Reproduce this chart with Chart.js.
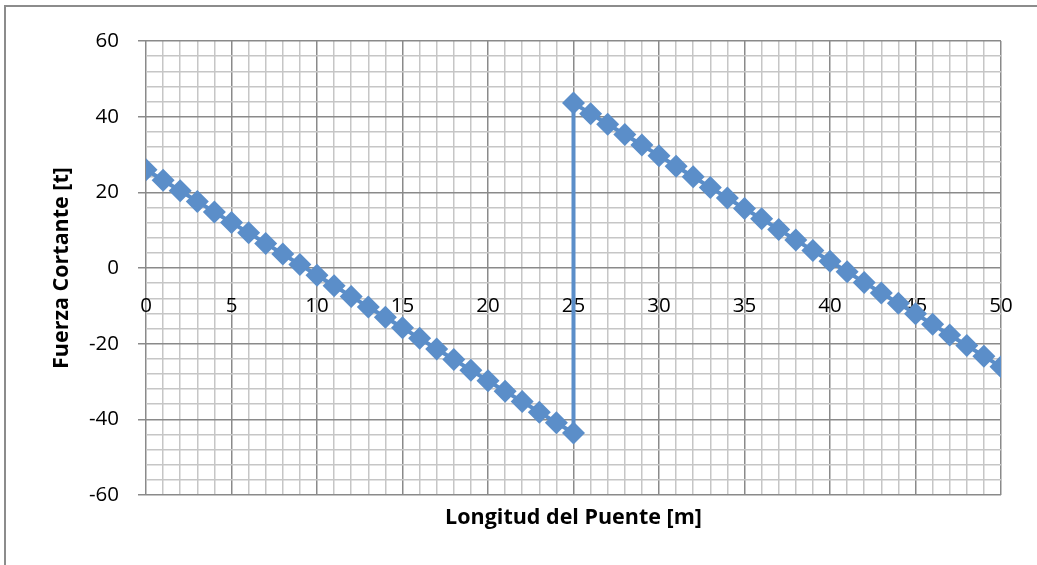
<!DOCTYPE html>
<html><head><meta charset="utf-8">
<script src="https://cdn.jsdelivr.net/npm/chart.js@4"></script>
<style>html,body{margin:0;padding:0;background:#fff;} #c{display:block;}</style>
</head><body>
<canvas id="c" width="1037" height="565"></canvas>
<script>
// Data (shear force diagram)
const leftPositions = [0,1,2,3,4,5,6,7,8,9,10,11,12,13,14,15,16,17,18,19,20,21,22,23,24,25];
const leftShear = [26.0,23.2,20.4,17.6,14.8,12.0,9.3,6.5,3.7,0.9,-1.9,-4.7,-7.5,-10.3,-13.0,-15.8,-18.6,-21.4,-24.2,-27.0,-29.8,-32.6,-35.3,-38.1,-40.9,-43.6];
const rightPositions = [25,26,27,28,29,30,31,32,33,34,35,36,37,38,39,40,41,42,43,44,45,46,47,48,49,50];
const rightShear = [43.6,40.8,38.0,35.3,32.5,29.7,26.9,24.1,21.3,18.5,15.7,13.0,10.2,7.4,4.6,1.8,-1.0,-3.8,-6.6,-9.3,-12.1,-14.9,-17.7,-20.5,-23.3,-26.1];
const xTickLabels = [0,5,10,15,20,25,30,35,40,45,50];
const yTickLabels = [-60,-40,-20,0,20,40,60];
const xTitle = 'Longitud del Puente [m]';
const yTitle = 'Fuerza Cortante [t]';

const points = leftPositions.map((x,i)=>({x, y:leftShear[i]}))
  .concat(rightPositions.map((x,i)=>({x, y:rightShear[i]})));

const MAJOR = '#8a8a8a', MINOR = '#c6c6c6';
const TICK_FONT = {family:'"Open Sans", sans-serif', size:20.5};
const TITLE_FONT = {family:'"Open Sans", sans-serif', size:21.5, weight:'bold'};

const frame = {
  id:'frame',
  beforeDraw(chart){
    const ctx = chart.ctx;
    ctx.save();
    ctx.fillStyle='#fff';
    ctx.fillRect(0,0,chart.width,chart.height);
    ctx.strokeStyle='#8c8c8c';
    ctx.lineWidth=2;
    ctx.beginPath();
    ctx.moveTo(5,chart.height);
    ctx.lineTo(5,6);
    ctx.lineTo(chart.width,6);
    ctx.stroke();
    ctx.restore();
  }
};

new Chart(document.getElementById('c'), {
  type:'scatter',
  data:{datasets:[{
    data:points,
    showLine:true,
    borderColor:'#5b8ec9',
    backgroundColor:'#5b8ec9',
    borderWidth:4,
    pointStyle:'rectRot',
    pointRadius:11.5,
    pointBorderWidth:0,
    pointHoverRadius:11.5,
    tension:0
  }]},
  options:{
    responsive:false,
    animation:false,
    devicePixelRatio:1,
    layout:{padding:{left:0,top:41,right:36,bottom:0}},
    plugins:{legend:{display:false},tooltip:{enabled:false}},
    scales:{
      x:{
        type:'linear', position:'bottom', min:0, max:50,
        ticks:{stepSize:1, display:false, autoSkip:false},
        grid:{
          color:c=>xTickLabels.includes(Math.round(c.tick.value))?MAJOR:MINOR,
          lineWidth:1.5, drawTicks:false
        },
        border:{display:false},
        title:{display:true, text:xTitle, font:TITLE_FONT, color:'#000', padding:34},
        afterFit(s){ s.height = 70; }
      },
      x2:{
        type:'linear', position:{y:0}, min:0, max:50,
        ticks:{stepSize:1, autoSkip:false, maxRotation:0, font:TICK_FONT, color:'#000', padding:18,
          callback:v=>xTickLabels.includes(Math.round(v))?String(Math.round(v)):''},
        grid:{display:false},
        border:{display:false}
      },
      y:{
        type:'linear', position:'left', min:-60, max:60,
        ticks:{stepSize:4, autoSkip:false, font:TICK_FONT, color:'#000', padding:19,
          callback:v=>yTickLabels.includes(Math.round(v))?String(Math.round(v)):''},
        grid:{
          color:c=>yTickLabels.includes(Math.round(c.tick.value))?MAJOR:MINOR,
          tickColor:c=>yTickLabels.includes(Math.round(c.tick.value))?MAJOR:'rgba(0,0,0,0)',
          lineWidth:1.5, tickLength:8
        },
        border:{display:false},
        title:{display:true, text:yTitle, font:TITLE_FONT, color:'#000', padding:49},
        afterFit(s){ s.width = 146; }
      }
    }
  },
  plugins:[frame]
});
</script>
</body></html>
